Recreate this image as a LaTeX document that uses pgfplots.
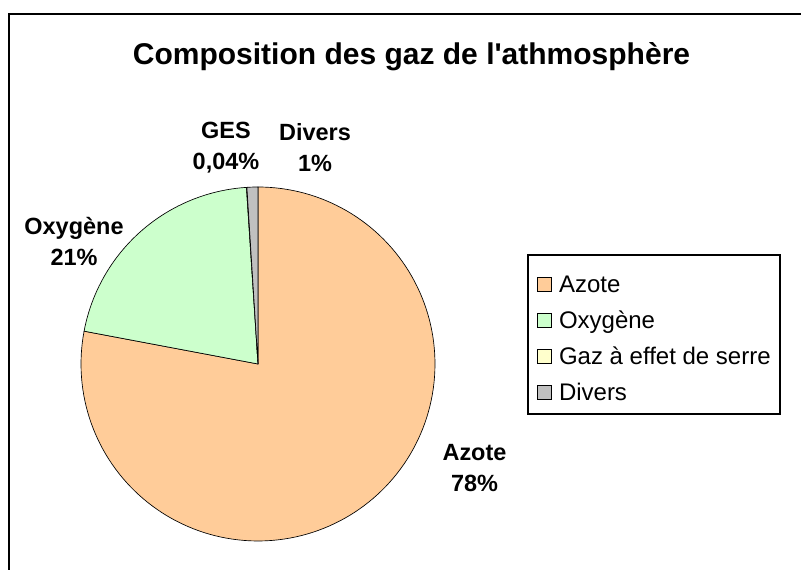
\documentclass[border=0pt]{standalone}
\usepackage{pgfplots}
\pgfplotsset{compat=1.18}
\usepackage{fontspec}
\setmainfont{Liberation Sans}[Ligatures=TeXOff]
\definecolor{azote}{RGB}{255,204,153}
\definecolor{oxy}{RGB}{204,255,204}
\definecolor{ges}{RGB}{255,255,204}
\definecolor{divers}{RGB}{192,192,192}
\newcommand\ls{\rule[-4pt]{0pt}{17.5pt}}
% data (percent)
\def\vAzote{78}
\def\vOxy{21}
\def\vGes{0.04}
\def\vDivers{1}
\pgfmathsetmacro\tot{\vAzote+\vOxy+\vGes+\vDivers}
\pgfmathsetmacro\k{360/\tot}
\pgfmathsetmacro\aA{90}
\pgfmathsetmacro\aB{\aA-\k*\vAzote}
\pgfmathsetmacro\aC{\aB-\k*\vOxy}
\pgfmathsetmacro\aD{\aC-\k*\vGes}
\pgfmathsetmacro\aE{\aD-\k*\vDivers}
\begin{document}
\begin{tikzpicture}
\clip (0,0) rectangle (600.75pt,427.5pt);
\begin{axis}[
  at={(0,0)}, anchor=south west,
  scale only axis, width=600.75pt, height=427.5pt,
  xmin=0, xmax=801, ymin=0, ymax=570,
  hide axis, clip=false,
  legend image code/.code={\draw[#1, line width=0.6pt] (0pt,-5.25pt) rectangle (10.5pt,5.25pt);
     \path (15.75pt,0pt);},
  legend style={at={(axis cs:537,231.7)}, anchor=west, draw=none, fill=none,
    inner sep=0pt, nodes={inner sep=0pt},
    font=\fontsize{18}{21}\selectfont, row sep=12pt, column sep=0pt,
    cells={anchor=west}},
  legend cell align=left,
]
\addplot[fill=azote, draw=black, line width=0.5pt, domain=\aB:\aA, samples=150, variable=\t]
  ({258+177*cos(\t)},{206+177*sin(\t)}) -- (axis cs:258,206) -- cycle;
\addlegendentry{\ls Azote}
\addplot[fill=oxy, draw=black, line width=0.5pt, domain=\aC:\aB, samples=50, variable=\t]
  ({258+177*cos(\t)},{206+177*sin(\t)}) -- (axis cs:258,206) -- cycle;
\addlegendentry{\ls Oxygène}
\addplot[fill=ges, draw=black, line width=0.5pt, domain=\aD:\aC, samples=2, variable=\t]
  ({258+177*cos(\t)},{206+177*sin(\t)}) -- (axis cs:258,206) -- cycle;
\addlegendentry{\ls Gaz à effet de serre}
\addplot[fill=divers, draw=black, line width=0.5pt, domain=\aE:\aD, samples=5, variable=\t]
  ({258+177*cos(\t)},{206+177*sin(\t)}) -- (axis cs:258,206) -- cycle;
\addlegendentry{\ls Divers}
% legend frame
\draw[line width=1.1pt] (axis cs:528,315) rectangle (axis cs:780,156);
% chart frame
\draw[line width=1.6pt] (axis cs:9,-30) |- (axis cs:830,556);
% title
\node[font=\bfseries\fontsize{22.5}{27}\selectfont] at (axis cs:411.5,513.5) {Composition des gaz de l'athmosphère};
% labels
\node[align=center, font=\bfseries\fontsize{17.6}{23.3}\selectfont] at (axis cs:226,422.5) {GES\\0,04\%};
\node[align=center, font=\bfseries\fontsize{17.6}{23.3}\selectfont] at (axis cs:315,422.5) {Divers\\1\%};
\node[align=center, font=\bfseries\fontsize{17.6}{23.3}\selectfont] at (axis cs:74,328.5) {Oxygène\\21\%};
\node[align=center, font=\bfseries\fontsize{17.6}{23.3}\selectfont] at (axis cs:474.5,102) {Azote\\78\%};
\end{axis}
\end{tikzpicture}
\end{document}
